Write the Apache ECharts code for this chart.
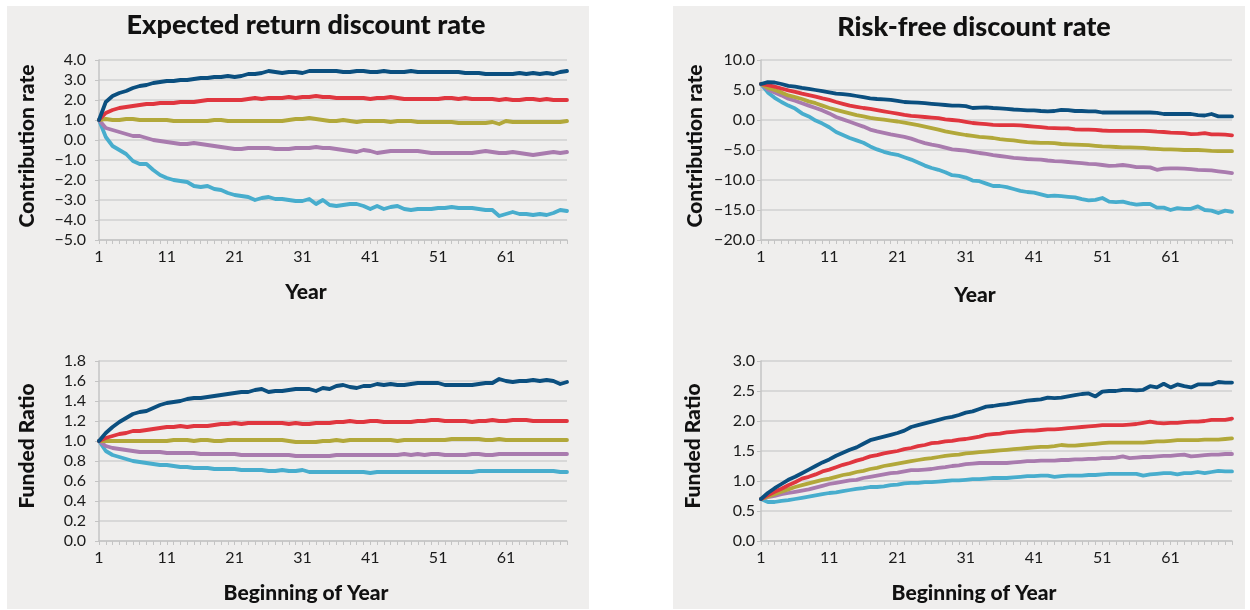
<!DOCTYPE html>
<html>
<head>
<meta charset="utf-8">
<script src="https://cdn.jsdelivr.net/npm/echarts@6/dist/echarts.min.js"></script>
<style>
html,body{margin:0;padding:0;background:#ffffff;}
#chart{width:1250px;height:610px;}
</style>
</head>
<body>
<div id="chart"></div>
<script>
// ---------- DATA ----------
const years = Array.from({length: 70}, (_, i) => String(i + 1));
const seriesNames = ['Series 1', 'Series 2', 'Series 3', 'Series 4', 'Series 5'];

// Expected return discount rate — Contribution rate
const erContribDarkBlue = [1.0,1.9,2.2,2.35,2.45,2.6,2.7,2.75,2.85,2.9, 2.95,2.95,3.0,3.0,3.05,3.1,3.1,3.15,3.15,3.2, 3.15,3.2,3.3,3.3,3.35,3.45,3.4,3.35,3.4,3.4, 3.35,3.45,3.45,3.45,3.45,3.45,3.4,3.4,3.45,3.45, 3.4,3.4,3.45,3.4,3.4,3.4,3.45,3.4,3.4,3.4, 3.4,3.4,3.4,3.4,3.35,3.35,3.35,3.3,3.3,3.3, 3.3,3.3,3.35,3.3,3.35,3.3,3.35,3.3,3.4,3.45];
const erContribRed = [1.0,1.35,1.5,1.6,1.65,1.7,1.75,1.8,1.8,1.85, 1.85,1.85,1.9,1.9,1.9,1.95,2.0,2.0,2.0,2.0, 2.0,2.0,2.05,2.1,2.05,2.1,2.1,2.1,2.15,2.1, 2.15,2.15,2.2,2.15,2.15,2.1,2.1,2.1,2.1,2.1, 2.05,2.1,2.1,2.15,2.1,2.05,2.05,2.05,2.05,2.05, 2.05,2.1,2.1,2.05,2.1,2.05,2.05,2.05,2.05,2.0, 2.05,2.0,2.0,2.05,2.05,2.0,2.05,2.0,2.0,2.0];
const erContribOlive = [1.0,1.05,1.0,1.0,1.05,1.05,1.0,1.0,1.0,1.0, 1.0,0.95,0.95,0.95,0.95,0.95,0.95,1.0,1.0,0.95, 0.95,0.95,0.95,0.95,0.95,0.95,0.95,0.95,1.0,1.05, 1.05,1.1,1.05,1.0,0.95,0.95,1.0,0.95,0.9,0.95, 0.95,0.95,0.95,0.9,0.95,0.95,0.95,0.9,0.9,0.9, 0.9,0.9,0.9,0.85,0.85,0.85,0.85,0.85,0.9,0.8, 0.95,0.9,0.9,0.9,0.9,0.9,0.9,0.9,0.9,0.95];
const erContribPurple = [1.0,0.6,0.5,0.4,0.3,0.2,0.2,0.1,0.0,-0.05, -0.1,-0.15,-0.2,-0.2,-0.15,-0.2,-0.25,-0.3,-0.35,-0.4, -0.45,-0.45,-0.4,-0.4,-0.4,-0.4,-0.45,-0.45,-0.45,-0.4, -0.4,-0.4,-0.35,-0.4,-0.4,-0.45,-0.5,-0.55,-0.6,-0.5, -0.55,-0.65,-0.6,-0.55,-0.55,-0.55,-0.55,-0.55,-0.6,-0.65, -0.65,-0.65,-0.65,-0.65,-0.65,-0.65,-0.6,-0.55,-0.6,-0.65, -0.65,-0.6,-0.65,-0.7,-0.75,-0.7,-0.65,-0.6,-0.65,-0.6];
const erContribLightBlue = [1.0,0.15,-0.3,-0.5,-0.7,-1.05,-1.2,-1.2,-1.5,-1.75, -1.9,-2.0,-2.05,-2.1,-2.3,-2.35,-2.3,-2.45,-2.5,-2.65, -2.75,-2.8,-2.85,-3.0,-2.9,-2.85,-2.95,-2.95,-3.0,-3.05, -3.05,-2.95,-3.2,-3.0,-3.25,-3.3,-3.25,-3.2,-3.2,-3.3, -3.45,-3.3,-3.45,-3.35,-3.3,-3.45,-3.5,-3.45,-3.45,-3.45, -3.4,-3.4,-3.35,-3.4,-3.4,-3.4,-3.45,-3.5,-3.5,-3.8, -3.7,-3.6,-3.7,-3.7,-3.75,-3.7,-3.75,-3.65,-3.5,-3.55];

// Risk-free discount rate — Contribution rate
const rfContribDarkBlue = [6.0,6.3,6.25,6.0,5.7,5.55,5.35,5.2,5.0,4.8, 4.6,4.4,4.3,4.2,4.0,3.8,3.6,3.5,3.45,3.35, 3.2,3.0,2.95,2.9,2.8,2.7,2.6,2.5,2.4,2.4, 2.3,2.0,2.05,2.1,2.0,1.95,1.85,1.75,1.7,1.6, 1.6,1.5,1.45,1.5,1.7,1.65,1.5,1.5,1.45,1.45, 1.25,1.25,1.25,1.25,1.25,1.25,1.25,1.25,1.2,1.0, 1.0,1.0,1.0,1.0,0.8,0.75,1.0,0.6,0.6,0.6];
const rfContribRed = [6.0,5.8,5.55,5.25,4.95,4.7,4.4,4.15,3.9,3.6, 3.35,3.0,2.7,2.4,2.2,2.0,1.85,1.65,1.45,1.25, 1.05,0.85,0.7,0.6,0.5,0.4,0.3,0.1,0.0,-0.1, -0.3,-0.5,-0.6,-0.7,-0.8,-0.85,-0.85,-0.85,-0.9,-1.0, -1.1,-1.2,-1.3,-1.35,-1.4,-1.4,-1.55,-1.6,-1.6,-1.65, -1.75,-1.8,-1.8,-1.8,-1.8,-1.8,-1.8,-1.85,-1.95,-2.0, -2.1,-2.15,-2.2,-2.35,-2.3,-2.2,-2.4,-2.4,-2.45,-2.55];
const rfContribOlive = [6.0,5.4,5.0,4.6,4.1,3.8,3.5,3.1,2.8,2.4, 2.0,1.7,1.4,1.1,0.8,0.6,0.35,0.2,0.05,-0.1, -0.25,-0.45,-0.65,-0.85,-1.1,-1.35,-1.6,-1.9,-2.1,-2.3, -2.5,-2.65,-2.8,-2.9,-3.0,-3.2,-3.3,-3.4,-3.55,-3.7, -3.75,-3.8,-3.8,-3.85,-4.0,-4.05,-4.1,-4.15,-4.2,-4.3, -4.4,-4.45,-4.5,-4.55,-4.55,-4.6,-4.65,-4.75,-4.8,-4.9, -4.9,-4.95,-5.0,-5.0,-5.0,-5.05,-5.15,-5.2,-5.2,-5.2];
const rfContribPurple = [6.0,5.1,4.6,4.1,3.55,3.2,2.8,2.4,2.0,1.6, 1.1,0.5,0.1,-0.3,-0.7,-1.1,-1.6,-1.9,-2.15,-2.4, -2.6,-2.8,-3.1,-3.5,-3.85,-4.1,-4.3,-4.6,-4.9,-5.0, -5.1,-5.3,-5.5,-5.65,-5.85,-6.0,-6.15,-6.3,-6.4,-6.5, -6.55,-6.6,-6.75,-6.85,-6.9,-7.0,-7.1,-7.2,-7.3,-7.35, -7.5,-7.65,-7.6,-7.5,-7.65,-7.85,-7.85,-7.9,-8.3,-8.1, -8.05,-8.05,-8.1,-8.2,-8.3,-8.35,-8.4,-8.55,-8.7,-8.85];
const rfContribLightBlue = [6.0,4.6,3.7,3.0,2.4,1.9,1.1,0.6,-0.1,-0.6, -1.2,-2.0,-2.5,-3.0,-3.4,-3.8,-4.4,-4.9,-5.3,-5.6, -5.8,-6.2,-6.6,-7.1,-7.6,-8.0,-8.3,-8.7,-9.2,-9.3, -9.6,-10.1,-10.2,-10.6,-11.0,-11.0,-11.2,-11.5,-11.8,-12.0, -12.1,-12.4,-12.7,-12.6,-12.7,-12.8,-12.9,-13.2,-13.4,-13.3, -13.0,-13.6,-13.7,-13.6,-13.9,-14.1,-14.0,-14.0,-14.6,-14.6, -15.0,-14.7,-14.8,-14.8,-14.4,-15.0,-15.1,-15.5,-15.1,-15.3];

// Expected return discount rate — Funded Ratio
const erFundedDarkBlue = [1.0,1.08,1.14,1.19,1.23,1.27,1.29,1.3,1.33,1.36, 1.38,1.39,1.4,1.42,1.43,1.43,1.44,1.45,1.46,1.47, 1.48,1.49,1.49,1.51,1.52,1.49,1.5,1.5,1.51,1.52, 1.52,1.52,1.5,1.53,1.52,1.55,1.56,1.54,1.53,1.55, 1.55,1.57,1.56,1.57,1.56,1.56,1.57,1.58,1.58,1.58, 1.58,1.56,1.56,1.56,1.56,1.56,1.57,1.58,1.58,1.62, 1.6,1.59,1.6,1.6,1.61,1.6,1.61,1.6,1.57,1.59];
const erFundedRed = [1.0,1.03,1.05,1.07,1.08,1.1,1.1,1.11,1.12,1.13, 1.14,1.14,1.15,1.14,1.15,1.15,1.15,1.16,1.17,1.17, 1.18,1.17,1.18,1.18,1.18,1.18,1.18,1.18,1.17,1.18, 1.17,1.17,1.18,1.18,1.18,1.19,1.19,1.2,1.19,1.19, 1.2,1.2,1.19,1.19,1.19,1.19,1.19,1.2,1.2,1.21, 1.21,1.2,1.2,1.2,1.2,1.19,1.2,1.2,1.21,1.2, 1.2,1.21,1.21,1.21,1.2,1.2,1.2,1.2,1.2,1.2];
const erFundedOlive = [1.0,1.0,1.0,1.0,1.0,1.0,1.0,1.0,1.0,1.0, 1.0,1.01,1.01,1.01,1.0,1.01,1.01,1.0,1.0,1.01, 1.01,1.01,1.01,1.01,1.01,1.01,1.01,1.01,1.0,0.99, 0.99,0.99,0.99,1.0,1.0,1.01,1.0,1.01,1.01,1.01, 1.01,1.01,1.01,1.01,1.0,1.01,1.01,1.01,1.01,1.01, 1.01,1.01,1.02,1.02,1.02,1.02,1.02,1.01,1.01,1.02, 1.01,1.01,1.01,1.01,1.01,1.01,1.01,1.01,1.01,1.01];
const erFundedPurple = [1.0,0.95,0.93,0.92,0.91,0.9,0.89,0.89,0.89,0.89, 0.88,0.88,0.88,0.88,0.88,0.87,0.87,0.87,0.87,0.87, 0.87,0.86,0.86,0.86,0.86,0.86,0.86,0.86,0.86,0.85, 0.85,0.85,0.85,0.85,0.85,0.86,0.86,0.86,0.86,0.86, 0.86,0.86,0.86,0.86,0.86,0.87,0.86,0.87,0.86,0.87, 0.87,0.86,0.86,0.86,0.86,0.87,0.87,0.86,0.86,0.87, 0.87,0.87,0.87,0.87,0.87,0.87,0.87,0.87,0.87,0.87];
const erFundedLightBlue = [1.0,0.9,0.86,0.84,0.82,0.8,0.79,0.78,0.77,0.76, 0.76,0.75,0.74,0.74,0.73,0.73,0.73,0.72,0.72,0.72, 0.72,0.71,0.71,0.71,0.71,0.7,0.7,0.71,0.7,0.7, 0.71,0.69,0.69,0.69,0.69,0.69,0.69,0.69,0.69,0.69, 0.68,0.69,0.69,0.69,0.69,0.69,0.69,0.69,0.69,0.69, 0.69,0.69,0.69,0.69,0.69,0.69,0.7,0.7,0.7,0.7, 0.7,0.7,0.7,0.7,0.7,0.7,0.7,0.7,0.69,0.69];

// Risk-free discount rate — Funded Ratio
const rfFundedDarkBlue = [0.7,0.8,0.88,0.95,1.02,1.07,1.13,1.19,1.25,1.31, 1.36,1.42,1.47,1.52,1.56,1.62,1.68,1.71,1.74,1.77, 1.8,1.84,1.9,1.93,1.96,1.99,2.02,2.05,2.07,2.1, 2.14,2.16,2.2,2.24,2.25,2.27,2.28,2.3,2.32,2.34, 2.35,2.36,2.39,2.38,2.39,2.41,2.43,2.45,2.46,2.41, 2.49,2.5,2.5,2.52,2.52,2.51,2.52,2.58,2.56,2.62, 2.56,2.61,2.58,2.56,2.61,2.61,2.61,2.65,2.64,2.64];
const rfFundedRed = [0.7,0.76,0.82,0.87,0.93,0.98,1.04,1.07,1.11,1.16, 1.19,1.23,1.27,1.3,1.34,1.37,1.41,1.43,1.46,1.48, 1.5,1.53,1.55,1.58,1.6,1.63,1.64,1.66,1.67,1.69, 1.7,1.72,1.74,1.77,1.78,1.79,1.81,1.82,1.83,1.84, 1.84,1.85,1.86,1.86,1.87,1.88,1.89,1.9,1.91,1.92, 1.93,1.93,1.93,1.93,1.94,1.95,1.97,1.99,1.97,1.96, 1.97,1.97,1.98,1.99,1.99,2.0,2.02,2.02,2.02,2.04];
const rfFundedOlive = [0.7,0.74,0.78,0.82,0.86,0.9,0.93,0.96,0.99,1.02, 1.04,1.07,1.1,1.12,1.15,1.17,1.2,1.22,1.25,1.27, 1.29,1.31,1.33,1.35,1.37,1.38,1.4,1.42,1.43,1.44, 1.46,1.47,1.48,1.49,1.5,1.51,1.52,1.53,1.54,1.55, 1.56,1.57,1.57,1.58,1.6,1.59,1.59,1.6,1.61,1.62, 1.63,1.64,1.64,1.64,1.64,1.64,1.64,1.65,1.66,1.66, 1.67,1.68,1.68,1.68,1.68,1.69,1.69,1.69,1.7,1.71];
const rfFundedPurple = [0.7,0.73,0.75,0.78,0.8,0.82,0.84,0.86,0.89,0.92, 0.95,0.97,0.99,1.01,1.02,1.05,1.07,1.09,1.11,1.13, 1.14,1.16,1.18,1.18,1.19,1.2,1.22,1.23,1.25,1.26, 1.28,1.29,1.3,1.3,1.3,1.3,1.3,1.31,1.32,1.33, 1.33,1.34,1.34,1.34,1.35,1.35,1.36,1.36,1.37,1.37, 1.38,1.38,1.39,1.41,1.38,1.39,1.4,1.4,1.41,1.42, 1.42,1.43,1.44,1.41,1.42,1.43,1.44,1.44,1.45,1.45];
const rfFundedLightBlue = [0.7,0.65,0.65,0.67,0.68,0.7,0.72,0.74,0.76,0.78, 0.8,0.81,0.83,0.85,0.87,0.88,0.9,0.9,0.91,0.93, 0.94,0.96,0.97,0.97,0.98,0.98,0.99,1.0,1.01,1.01, 1.02,1.03,1.03,1.04,1.05,1.05,1.05,1.06,1.07,1.08, 1.08,1.09,1.09,1.07,1.08,1.09,1.09,1.09,1.1,1.1, 1.11,1.12,1.12,1.12,1.12,1.12,1.09,1.11,1.12,1.13, 1.13,1.11,1.13,1.13,1.15,1.13,1.15,1.17,1.16,1.16];

const panelTitles = ['Expected return discount rate', 'Risk-free discount rate'];
const yNames = ['Contribution rate', 'Funded Ratio'];
const xNames = ['Year', 'Beginning of Year'];
// y-axis ranges [min, max, interval] per panel: TL, BL, TR, BR
const yRanges = [[-5, 4, 1], [0, 1.8, 0.2], [-20, 10, 5], [0, 3, 0.5]];

// ---------- STYLE / LAYOUT ----------
const colors = ['#0b4f7f', '#e0363f', '#b2a83a', '#a97bae', '#48adcd'];
const FONT = 'Lato, "Noto Sans", sans-serif';
const grids = [
  {left: 99, top: 60, width: 468, height: 180},
  {left: 99, top: 361, width: 468, height: 180},
  {left: 761, top: 60, width: 471, height: 180},
  {left: 761, top: 361, width: 471, height: 180}
];
const panelData = [
  [erContribDarkBlue, erContribRed, erContribOlive, erContribPurple, erContribLightBlue],
  [erFundedDarkBlue, erFundedRed, erFundedOlive, erFundedPurple, erFundedLightBlue],
  [rfContribDarkBlue, rfContribRed, rfContribOlive, rfContribPurple, rfContribLightBlue],
  [rfFundedDarkBlue, rfFundedRed, rfFundedOlive, rfFundedPurple, rfFundedLightBlue]
];
const labelMargins = [13, 13, 6, 6];

function fmt(v) {
  const s = Math.abs(v).toFixed(1);
  return (v < -1e-9 ? '\u2212' : '') + s;
}

const xAxes = grids.map((g, i) => ({
  type: 'category', gridIndex: i, data: years, boundaryGap: false,
  axisLine: {show: true, onZero: false, lineStyle: {color: '#c4c4c4', width: 1.5}},
  axisTick: {show: true, interval: 0, length: 4, lineStyle: {color: '#c4c4c4', width: 1}},
  axisLabel: {interval: 9, margin: 9, color: '#1a1a1a', fontSize: 16, fontFamily: FONT},
  splitLine: {show: false}
}));
const yAxes = grids.map((g, i) => ({
  type: 'value', gridIndex: i, min: yRanges[i][0], max: yRanges[i][1], interval: yRanges[i][2],
  axisLine: {show: true, lineStyle: {color: '#c4c4c4', width: 1.5}},
  axisTick: {show: true, length: 4, lineStyle: {color: '#c4c4c4'}},
  axisLabel: {margin: labelMargins[i], color: '#1a1a1a', fontSize: 16, fontFamily: FONT,
    formatter: v => fmt(v)},
  splitLine: {show: true, lineStyle: {color: '#d0d0d0', width: 1.5}}
}));

const series = [];
panelData.forEach((arr, p) => {
  arr.forEach((d, k) => {
    series.push({
      type: 'line', name: seriesNames[k], xAxisIndex: p, yAxisIndex: p, data: d,
      showSymbol: false, symbol: 'none', smooth: false, animation: false,
      lineStyle: {color: colors[k], width: 3.8, cap: 'round', join: 'round'},
      z: 10 - k
    });
  });
});

const textStyle = (t, x, y, size, rot) => ({
  type: 'text', x: x, y: y, rotation: rot || 0, z: 50,
  style: {text: t, fill: '#111', font: '900 ' + size + 'px ' + FONT, align: 'center', verticalAlign: 'middle'}
});

const graphic = [
  {type: 'rect', shape: {x: 7, y: 6, width: 582, height: 603}, style: {fill: '#efeeed'}, z: -10, silent: true},
  {type: 'rect', shape: {x: 673, y: 6, width: 572, height: 603}, style: {fill: '#efeeed'}, z: -10, silent: true},
  textStyle(panelTitles[0], 306, 25, 27),
  textStyle(panelTitles[1], 974, 27, 27),
  textStyle(yNames[0], 27, 146, 21, Math.PI / 2),
  textStyle(yNames[1], 27, 446, 21, Math.PI / 2),
  textStyle(yNames[0], 695, 146, 21, Math.PI / 2),
  textStyle(yNames[1], 693, 446, 21, Math.PI / 2),
  textStyle(xNames[0], 306, 292, 21),
  textStyle(xNames[1], 306, 593, 21),
  textStyle(xNames[0], 975, 295, 21),
  textStyle(xNames[1], 974, 593, 21)
];

const chart = echarts.init(document.getElementById('chart'), null, {renderer: 'canvas'});
chart.setOption({
  backgroundColor: '#ffffff',
  animation: false,
  grid: grids,
  xAxis: xAxes,
  yAxis: yAxes,
  series: series,
  graphic: graphic
});
</script>
</body>
</html>
